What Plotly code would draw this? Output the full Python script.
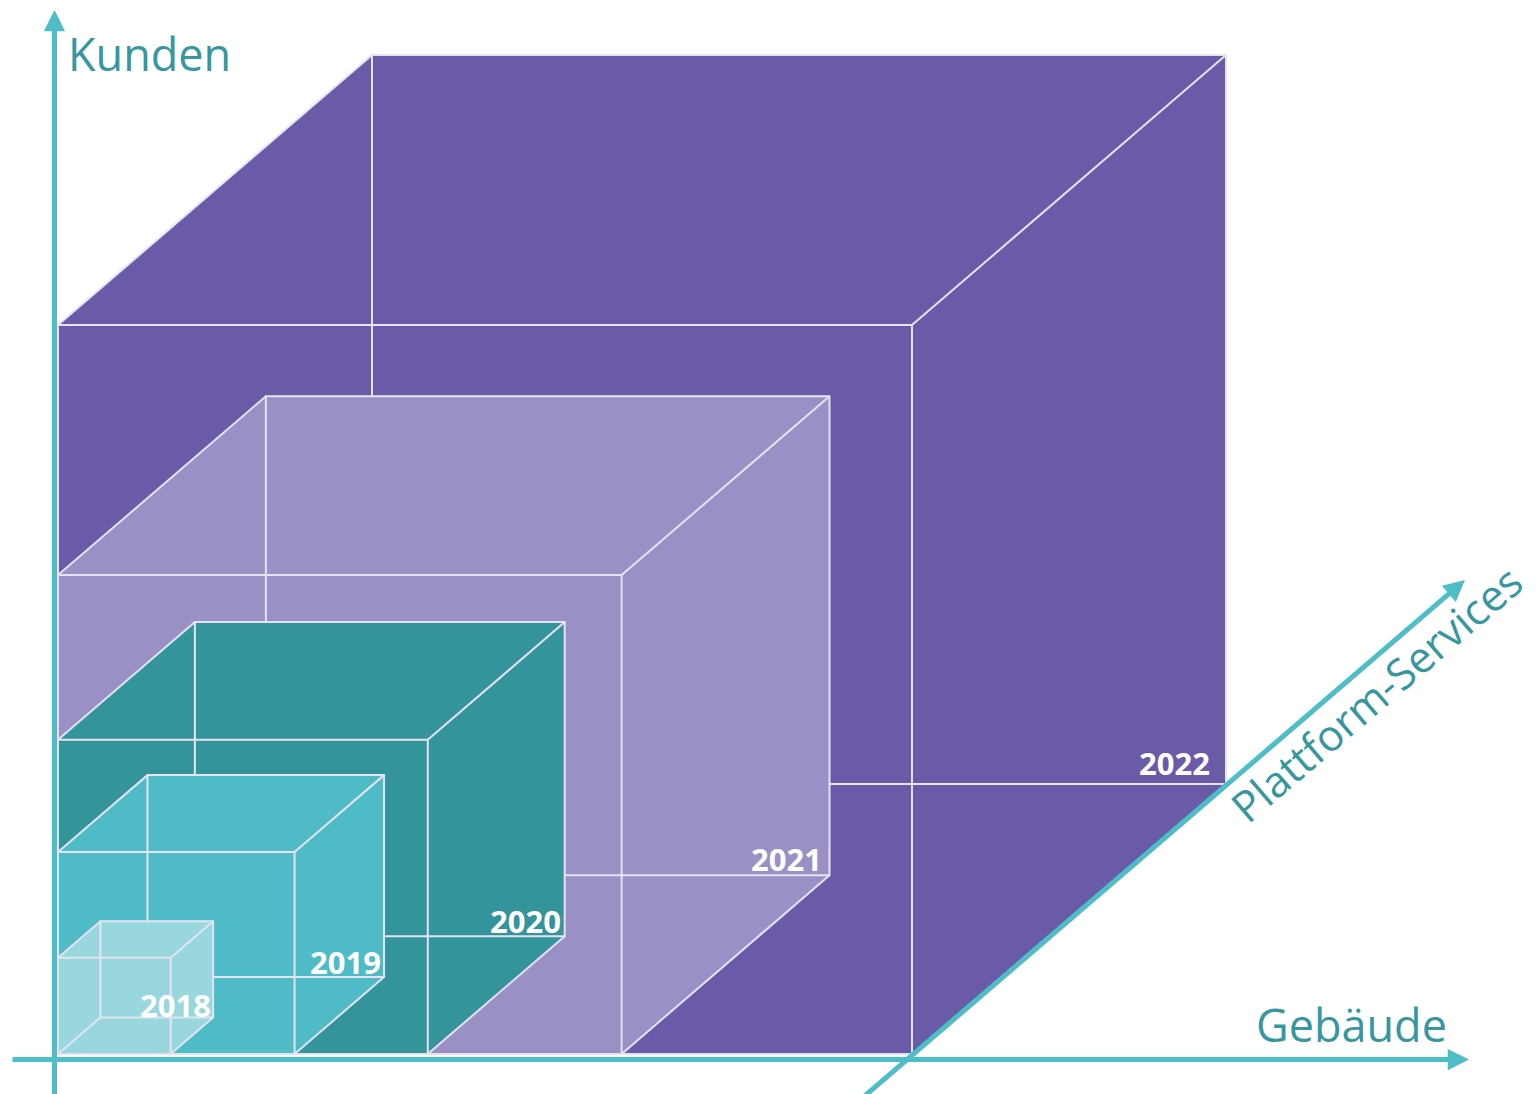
import plotly.graph_objects as go

# ---- data ----
years = ["2018", "2019", "2020", "2021", "2022"]
gebaeude = [1.32, 2.77, 4.33, 6.60, 10.0]      # width (Gebäude)
kunden = [1.32, 2.77, 4.31, 6.57, 10.0]        # height (Kunden)
plattform = [1.35, 2.85, 4.36, 6.62, 10.0]     # depth (Plattform-Services)

# ---- style ----
fill_colors = ["#97D7DD", "#4EBBC6", "#34949C", "#9B90C5", "#6A5AA8"]
edge_color = "#E6E3F0"
axis_color = "#4DBEC7"
title_color = "#36979F"
label_dx = [-3, -4, -5, -9, -17]   # px offset of label right edge from corner
label_dy = [13, 15, 15, 16, 21]    # px offset of label centre above corner

W, H = 1540, 1094
PAGE_MARGIN = 8               # default body margin of the html page
SX, SY = 85.4, 72.9           # px per unit on x / y
OX, OY = 58, 1054             # screen pixel position of origin
DX, DY = 31.4 / SX, 27.0 / SY  # oblique projection of depth axis (units)


def proj(g, k, p):
    return g + p * DX, k + p * DY


def px(x, y):
    return (x - OX) / SX, (OY - y) / SY


fig = go.Figure()

order = sorted(range(len(years)), key=lambda i: -gebaeude[i])
for i in order:
    g, k, p = gebaeude[i], kunden[i], plattform[i]
    sil = [(0, 0, 0), (g, 0, 0), (g, 0, p), (g, k, p), (0, k, p), (0, k, 0), (0, 0, 0)]
    xs, ys = zip(*[proj(*pt) for pt in sil])
    fig.add_trace(go.Scatter(x=xs, y=ys, mode="lines", fill="toself",
                             fillcolor=fill_colors[i], line=dict(width=0),
                             hoverinfo="skip", showlegend=False))
    front = [(0, 0, 0), (g, 0, 0), (g, k, 0), (0, k, 0), (0, 0, 0)]
    back = [(0, 0, p), (g, 0, p), (g, k, p), (0, k, p), (0, 0, p)]
    conns = [[(0, 0, 0), (0, 0, p)], [(g, 0, 0), (g, 0, p)],
             [(g, k, 0), (g, k, p)], [(0, k, 0), (0, k, p)]]
    ex, ey = [], []
    for seg in [front, back] + conns:
        for pt in seg:
            a, b = proj(*pt)
            ex.append(a)
            ey.append(b)
        ex.append(None)
        ey.append(None)
    fig.add_trace(go.Scatter(x=ex, y=ey, mode="lines",
                             line=dict(color=edge_color, width=2),
                             hoverinfo="skip", showlegend=False))

annotations = []
for i, yr in enumerate(years):
    cx, cy = proj(gebaeude[i], 0, plattform[i])
    annotations.append(dict(
        x=cx, y=cy, xref="x", yref="y", text="<b>" + yr + "</b>",
        showarrow=False, xanchor="right", yanchor="middle",
        xshift=label_dx[i] + 3, yshift=label_dy[i],
        font=dict(family="Open Sans", size=31, color="white")))


def arrow(tail, tip):
    tx, ty = px(*tail)
    hx, hy = px(*tip)
    return dict(x=hx, y=hy, ax=tx, ay=ty, xref="x", yref="y",
                axref="x", ayref="y", text="", showarrow=True,
                arrowhead=2, arrowsize=0.85, arrowwidth=5,
                arrowcolor=axis_color, standoff=0, startstandoff=0)


annotations.append(arrow((54.5, 1100), (54.5, 10)))
annotations.append(arrow((11, 1059.5), (1469, 1059.5)))
annotations.append(arrow((860, 1100), (1465, 580)))


def title(text, x, y, angle=0, size=46):
    tx, ty = px(x, y)
    return dict(x=tx, y=ty, xref="x", yref="y", text=text, showarrow=False,
                xanchor="center", yanchor="middle", textangle=angle,
                font=dict(family="Open Sans", size=size, color=title_color))


annotations.append(title("Kunden", 149, 53, size=45))
annotations.append(title("Gebäude", 1351, 1024, size=45))
annotations.append(title("Plattform-Services", 1376, 693, -40.6, size=43))

# figure occupies screen pixels PAGE_MARGIN..W and PAGE_MARGIN..H
x0, y0 = px(PAGE_MARGIN, H)
x1, y1 = px(W, PAGE_MARGIN)
fig.update_layout(
    width=W - PAGE_MARGIN, height=H - PAGE_MARGIN,
    margin=dict(l=0, r=0, t=0, b=0),
    paper_bgcolor="white", plot_bgcolor="white",
    xaxis=dict(range=[x0, x1], visible=False, fixedrange=True),
    yaxis=dict(range=[y0, y1], visible=False, fixedrange=True),
    annotations=annotations, showlegend=False,
)

fig.write_html("out.html")
